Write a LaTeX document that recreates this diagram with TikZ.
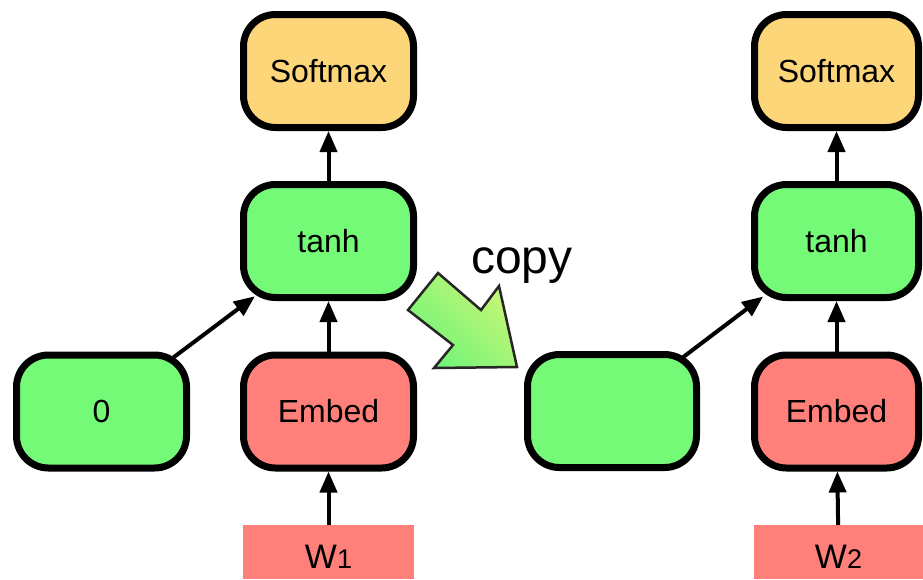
\documentclass[tikz,border=0pt]{standalone}
\usepackage{fontspec}
\setmainfont{Liberation Sans}
\usetikzlibrary{arrows.meta,calc}
\definecolor{softc}{RGB}{254,214,122}
\definecolor{greenc}{RGB}{117,250,119}
\definecolor{redc}{RGB}{255,128,122}
\definecolor{copyA}{RGB}{200,246,118}
\definecolor{copyB}{RGB}{112,244,120}
\definecolor{copyline}{RGB}{38,38,38}
\newcommand\lblfont{\fontsize{32}{38}\selectfont}
\tikzset{
  box/.style={draw=black, line width=7pt, rounded corners=32pt, inner sep=0pt,
    minimum height=113pt, font=\lblfont, text=black},
  boxL/.style={box, minimum width=170pt},
  boxR/.style={box, minimum width=164pt},
  wbox/.style={fill=redc, draw=none, inner sep=0pt, minimum height=54pt,
    text height=32pt, text depth=0pt},
  conn/.style={draw=black, line width=4pt, -{Triangle[length=21pt,width=17pt]}},
}
\begin{document}
\begin{tikzpicture}[x=1pt,y=-1pt]
\useasboundingbox (0,0) rectangle (923,579);
% left column
\node[boxL, fill=softc] (softL) at (328.5,71) {Softmax};
\node[boxL, fill=greenc] (tanhL) at (328.5,241) {tanh};
\node[boxL, fill=redc] (embL) at (328.5,411.5) {Embed};
\node[boxL, fill=greenc] (zero) at (101.5,411.5) {0};
\node[wbox, minimum width=171pt] (w1) at (328.5,552) {{\fontsize{34}{40}\selectfont W}{\fontsize{27}{32}\selectfont 1}};
% right column
\node[box, minimum width=169pt, fill=greenc] (empty) at (612,411) {};
\node[boxR, fill=softc] (softR) at (836.5,71) {Softmax};
\node[boxR, fill=greenc] (tanhR) at (836.5,241) {tanh};
\node[boxR, fill=redc] (embR) at (836.5,411.5) {Embed};
\node[wbox, minimum width=169pt] (w2) at (838.5,552) {{\fontsize{34}{40}\selectfont W}{\fontsize{27}{32}\selectfont 2}};
% connectors
\draw[conn] (tanhL) -- (softL);
\draw[conn] (embL) -- (tanhL);
\draw[conn] (w1) -- (embL);
\draw[conn] ($(zero.center)!90pt!(tanhL.center)$) -- ($(tanhL.center)!92pt!(zero.center)$);
\draw[conn] (tanhR) -- (softR);
\draw[conn] (embR) -- (tanhR);
\draw[conn] (w2) -- (embR);
\draw[conn] ($(empty.center)!89pt!(tanhR.center)$) -- ($(tanhR.center)!92pt!(empty.center)$);
% copy arrow
\draw[draw=copyline, line width=2.5pt, line join=miter, top color=copyA, bottom color=copyB, shading angle=-45]
  (408,310) -- (438,273) -- (481,310) -- (499,286) -- (517,367) -- (434,368) -- (453,345) -- cycle;
\node[anchor=base west, inner sep=0pt, font=\fontsize{48}{56}\selectfont] (copylbl) at (471,273) {copy};
\end{tikzpicture}
\end{document}
